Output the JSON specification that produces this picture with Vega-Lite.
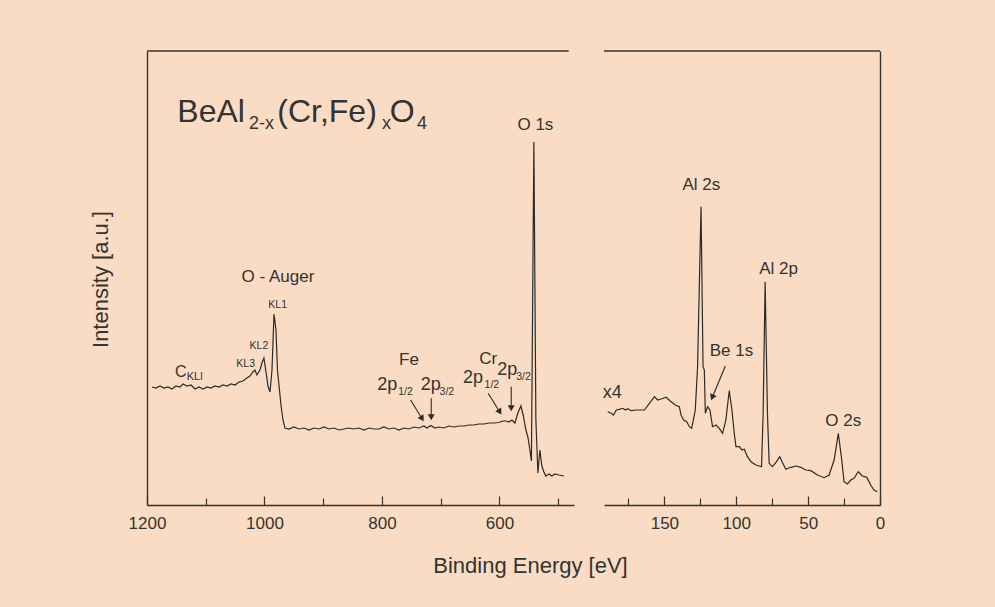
{
  "$schema": "https://vega.github.io/schema/vega-lite/v6.json",
  "background": "#f9dcc3",
  "padding": {"left": 89, "top": 50, "right": 115, "bottom": 40},
  "spacing": 30,
  "bounds": "flush",
  "config": {
    "view": {"stroke": null},
    "font": "Liberation Sans",
    "axis": {"domainColor": "#333333", "domainWidth": 1.4, "tickColor": "#333333", "tickWidth": 1.2, "labelFont": "Liberation Sans", "labelFontSize": 17, "labelColor": "#333333", "titleColor": "#333333", "titleFont": "Liberation Sans", "grid": false, "labelPadding": 19, "labelFlush": false, "labelOverlap": false},
    "text": {"font": "Liberation Sans", "color": "#333333"}
  },
  "hconcat": [
    {
      "width": 427,
      "height": 454,
      "encoding": {
        "x": {"field": "E", "type": "quantitative", "scale": {"domain": [473, 1200], "reverse": true, "nice": false, "zero": false},
          "axis": {"values": [1200, 1100, 1000, 900, 800, 700, 600, 500], "format": "d", "labelExpr": "datum.value % 200 === 0 ? datum.label : ''",
            "tickSize": {"condition": {"test": "datum.value % 200 === 0", "value": -9}, "value": -7},
            "title": "Binding Energy [eV]", "titleX": 383, "titleY": 67, "titleBaseline": "alphabetic", "titleAlign": "center", "titleFontSize": 22, "titleFontWeight": "normal"}},
        "y": {"field": "I", "type": "quantitative", "scale": {"domain": [0, 454], "nice": false, "zero": false},
          "axis": {"ticks": false, "labels": false, "title": "Intensity [a.u.]", "titleX": -47, "titleY": 228, "titleAngle": -90, "titleAlign": "center", "titleBaseline": "middle", "titleFontSize": 22, "titleFontWeight": "normal"}}
      },
      "layer": [
        {
          "data": {"values": [
            {"E":1191.5,"I":118},{"E":1184.7,"I":117},{"E":1177.9,"I":119},{"E":1171.1,"I":117},{"E":1164.3,"I":118},{"E":1157.4,"I":116},{"E":1150.6,"I":119},{"E":1143.8,"I":118},{"E":1138.7,"I":121},{"E":1131.9,"I":119},{"E":1125.1,"I":120},{"E":1118.3,"I":116},{"E":1111.5,"I":118},{"E":1104.7,"I":116},{"E":1097.9,"I":118},{"E":1091.1,"I":117},{"E":1084.3,"I":119},{"E":1077.4,"I":118},{"E":1070.6,"I":120},{"E":1063.8,"I":119},{"E":1057.0,"I":121},{"E":1050.2,"I":120},{"E":1043.4,"I":123},{"E":1036.6,"I":124},{"E":1029.8,"I":127},{"E":1024.7,"I":129},{"E":1019.6,"I":133},{"E":1016.2,"I":135},{"E":1012.8,"I":130},{"E":1007.7,"I":135},{"E":1004.3,"I":142},{"E":1000.9,"I":147},{"E":997.4,"I":133},{"E":994.0,"I":119},{"E":990.6,"I":113},{"E":987.2,"I":135},{"E":983.8,"I":191},{"E":980.4,"I":175},{"E":977.9,"I":135},{"E":975.3,"I":120},{"E":971.9,"I":100},{"E":968.5,"I":85},{"E":965.1,"I":77},
            {"E":958.3,"I":76},{"E":949.8,"I":78},{"E":941.3,"I":76},{"E":932.8,"I":77},{"E":924.3,"I":75},{"E":915.7,"I":77},{"E":907.2,"I":76},{"E":898.7,"I":78},{"E":890.2,"I":76},{"E":881.7,"I":77},{"E":873.2,"I":75},{"E":864.7,"I":76},{"E":856.2,"I":77},{"E":847.7,"I":76},{"E":839.2,"I":77},{"E":830.6,"I":75},{"E":822.1,"I":77},{"E":813.6,"I":76},{"E":805.1,"I":76},{"E":796.6,"I":78},{"E":788.1,"I":76},{"E":779.6,"I":77},{"E":771.1,"I":75},{"E":762.6,"I":77},{"E":754.1,"I":76},{"E":745.5,"I":78},{"E":737.0,"I":77},{"E":728.5,"I":79},{"E":723.4,"I":77},{"E":716.6,"I":79.5},{"E":709.8,"I":77},{"E":703.0,"I":78},{"E":694.5,"I":77},{"E":686.0,"I":79},{"E":677.5,"I":78},{"E":668.9,"I":79},{"E":660.4,"I":79},{"E":651.9,"I":80},{"E":643.4,"I":80},{"E":634.9,"I":81},{"E":626.4,"I":81},{"E":617.9,"I":82},{"E":609.4,"I":82},{"E":600.9,"I":82.5},{"E":594.1,"I":84},{"E":589.0,"I":84},{"E":583.8,"I":83},{"E":578.7,"I":85},{"E":573.6,"I":82},{"E":568.5,"I":92},{"E":563.4,"I":99},{"E":559.2,"I":89},{"E":554.9,"I":75},{"E":551.5,"I":68},{"E":548.1,"I":55},{"E":545.5,"I":44},{"E":541.3,"I":363},{"E":537.9,"I":85},{"E":534.5,"I":32},{"E":531.1,"I":55},{"E":527.7,"I":39},{"E":524.3,"I":33},{"E":520.9,"I":29},{"E":515.8,"I":31},{"E":510.7,"I":29},{"E":505.5,"I":31},{"E":498.7,"I":30},{"E":490.2,"I":29}
          ]},
          "mark": {"type": "line", "color": "#2b2b2b", "strokeWidth": 1.2}
        },
        {
          "data": {"values": [{"E": 1200, "E2": 482, "I": 454}]},
          "mark": {"type": "rule", "color": "#333333", "strokeWidth": 1.4},
          "encoding": {"x2": {"field": "E2"}}
        },
        {
          "data": {"values": [{"E": 1148.4, "I": 383, "t": "BeAl"}, {"E": 978.2, "I": 383, "t": "(Cr,Fe)"}, {"E": 786.9, "I": 383, "t": "O"}]},
          "mark": {"type": "text", "align": "left", "baseline": "alphabetic", "fontSize": 32},
          "encoding": {"text": {"field": "t"}}
        },
        {
          "data": {"values": [{"E": 1026.4, "I": 376, "t": "2-x"}, {"E": 800, "I": 376, "t": "x"}, {"E": 740.4, "I": 376, "t": "4"}]},
          "mark": {"type": "text", "align": "left", "baseline": "alphabetic", "fontSize": 18},
          "encoding": {"text": {"field": "t"}}
        },
        {
          "data": {"values": [{"E": 538.7, "I": 375, "t": "O 1s"}, {"E": 977, "I": 222.7, "t": "O - Auger"}, {"E": 754, "I": 140, "t": "Fe"}, {"E": 619.2, "I": 141, "t": "Cr"}]},
          "mark": {"type": "text", "align": "center", "baseline": "alphabetic", "fontSize": 17},
          "encoding": {"text": {"field": "t"}}
        },
        {
          "data": {"values": [{"E": 808, "I": 115, "t": "2p"}, {"E": 734.1, "I": 115, "t": "2p"}, {"E": 662.1, "I": 121.7, "t": "2p"}, {"E": 603.8, "I": 130, "t": "2p"}]},
          "mark": {"type": "text", "align": "left", "baseline": "alphabetic", "fontSize": 18},
          "encoding": {"text": {"field": "t"}}
        },
        {
          "data": {"values": [{"E": 772.3, "I": 110, "t": "1/2"}, {"E": 701.8, "I": 110, "t": "3/2"}, {"E": 625.2, "I": 116.7, "t": "1/2"}, {"E": 571.4, "I": 125, "t": "3/2"}]},
          "mark": {"type": "text", "align": "left", "baseline": "alphabetic", "fontSize": 10.5},
          "encoding": {"text": {"field": "t"}}
        },
        {
          "data": {"values": [{"E": 1152.3, "I": 128.3, "t": "C"}]},
          "mark": {"type": "text", "align": "left", "baseline": "alphabetic", "fontSize": 16},
          "encoding": {"text": {"field": "t"}}
        },
        {
          "data": {"values": [{"E": 1132.4, "I": 125, "t": "KLl"}]},
          "mark": {"type": "text", "align": "left", "baseline": "alphabetic", "fontSize": 11},
          "encoding": {"text": {"field": "t"}}
        },
        {
          "data": {"values": [{"E": 977.5, "I": 196.7, "t": "KL1"}, {"E": 1009.4, "I": 156, "t": "KL2"}, {"E": 1032, "I": 138.3, "t": "KL3"}]},
          "mark": {"type": "text", "align": "center", "baseline": "alphabetic", "fontSize": 10.5},
          "encoding": {"text": {"field": "t"}}
        },
        {
          "data": {"values": [{"E": 751.2, "I": 105, "E2": 731.6, "I2": 86.3}, {"E": 716.1, "I": 106.7, "E2": 716.1, "I2": 87.8}, {"E": 619.1, "I": 111.7, "E2": 599.3, "I2": 93}, {"E": 579.9, "I": 118.3, "E2": 579.9, "I2": 96.8}]},
          "mark": {"type": "rule", "color": "#2b2b2b", "strokeWidth": 1.1},
          "encoding": {"x2": {"field": "E2"}, "y2": {"field": "I2"}}
        },
        {
          "data": {"values": [{"E": 716.1, "I": 87.8}, {"E": 579.9, "I": 96.8}]},
          "mark": {"type": "point", "shape": "triangle-down", "filled": true, "size": 49, "color": "#2b2b2b", "opacity": 1}
        },
        {
          "data": {"values": [{"E": 731.6, "I": 86.3}, {"E": 599.3, "I": 93}]},
          "mark": {"type": "point", "shape": "triangle-down", "filled": true, "size": 49, "color": "#2b2b2b", "opacity": 1, "angle": -31.5}
        }
      ]
    },
    {
      "width": 276,
      "height": 454,
      "encoding": {
        "x": {"field": "E", "type": "quantitative", "scale": {"domain": [0, 192], "reverse": true, "nice": false, "zero": false},
          "axis": {"values": [175, 150, 125, 100, 75, 50, 25, 0], "format": "d", "labelExpr": "datum.value % 50 === 0 ? datum.label : ''",
            "tickSize": {"condition": {"test": "datum.value % 50 === 0", "value": -9}, "value": -7}, "title": null}},
        "y": {"field": "I", "type": "quantitative", "scale": {"domain": [0, 454], "nice": false, "zero": false},
          "axis": {"orient": "right", "ticks": false, "labels": false, "title": null}}
      },
      "layer": [
        {
          "data": {"values": [
            {"E":189.4,"I":93.3},{"E":187.0,"I":91.7},{"E":185.4,"I":90},{"E":183.5,"I":95},{"E":181.3,"I":95.7},{"E":179.0,"I":96.7},{"E":177.1,"I":95},{"E":175.5,"I":96.3},{"E":173.1,"I":94.3},{"E":169.7,"I":95},{"E":163.9,"I":95},{"E":160.4,"I":101.7},{"E":156.9,"I":108.3},{"E":154.7,"I":105},{"E":152.3,"I":106},{"E":148.8,"I":107.7},{"E":145.3,"I":103.3},{"E":142.4,"I":100},{"E":139.6,"I":98.3},{"E":138.4,"I":90},{"E":136.6,"I":85},{"E":134.5,"I":83.3},{"E":132.6,"I":78.3},{"E":131.0,"I":76.7},{"E":128.5,"I":95},{"E":126.9,"I":138.3},{"E":124.5,"I":298.3},{"E":123.1,"I":138.3},{"E":122.2,"I":135},{"E":121.5,"I":91.7},{"E":119.9,"I":98.3},{"E":118.3,"I":95},{"E":116.5,"I":78.3},{"E":114.1,"I":80},{"E":111.8,"I":76.7},{"E":109.5,"I":71.7},{"E":107.2,"I":85},{"E":104.9,"I":114.3},{"E":103.0,"I":95},{"E":101.4,"I":71.7},{"E":100.2,"I":58.3},{"E":97.9,"I":58.3},{"E":96.0,"I":55},{"E":94.4,"I":55.7},{"E":92.2,"I":48.3},{"E":89.8,"I":43.3},{"E":86.3,"I":40},{"E":82.4,"I":38.3},{"E":81.3,"I":91.7},{"E":79.9,"I":223.3},{"E":78.3,"I":91.7},{"E":77.1,"I":41.7},{"E":74.8,"I":38.3},{"E":72.0,"I":43.3},{"E":69.7,"I":48.3},{"E":67.8,"I":42.3},{"E":65.5,"I":35.7},{"E":62.0,"I":37.7},{"E":58.5,"I":39},{"E":55.1,"I":37.7},{"E":51.6,"I":35},{"E":48.1,"I":34.3},{"E":43.5,"I":30},{"E":38.9,"I":27.3},{"E":35.4,"I":30},{"E":31.9,"I":45},{"E":29.0,"I":71.7},{"E":26.6,"I":45},{"E":25.0,"I":23.3},{"E":22.7,"I":21},{"E":20.3,"I":25},{"E":18.1,"I":26.7},{"E":15.1,"I":33.3},{"E":12.3,"I":29},{"E":9.2,"I":27.7},{"E":6.5,"I":20},{"E":4.2,"I":15},{"E":1.9,"I":13.3}
          ]},
          "mark": {"type": "line", "color": "#2b2b2b", "strokeWidth": 1.2}
        },
        {
          "data": {"values": [{"E": 192, "E2": 0, "I": 454}]},
          "mark": {"type": "rule", "color": "#333333", "strokeWidth": 1.4},
          "encoding": {"x2": {"field": "E2"}}
        },
        {
          "data": {"values": [{"E": 124.3, "I": 315, "t": "Al 2s"}, {"E": 70.5, "I": 231, "t": "Al 2p"}, {"E": 103.3, "I": 149, "t": "Be 1s"}, {"E": 25.6, "I": 79, "t": "O 2s"}]},
          "mark": {"type": "text", "align": "center", "baseline": "alphabetic", "fontSize": 17},
          "encoding": {"text": {"field": "t"}}
        },
        {
          "data": {"values": [{"E": 186.3, "I": 106.7, "t": "x4"}]},
          "mark": {"type": "text", "align": "center", "baseline": "alphabetic", "fontSize": 18},
          "encoding": {"text": {"field": "t"}}
        },
        {
          "data": {"values": [{"E": 107.6, "I": 139, "E2": 116.7, "I2": 107.5}]},
          "mark": {"type": "rule", "color": "#2b2b2b", "strokeWidth": 1.1},
          "encoding": {"x2": {"field": "E2"}, "y2": {"field": "I2"}}
        },
        {
          "data": {"values": [{"E": 116.7, "I": 107.5}]},
          "mark": {"type": "point", "shape": "triangle-down", "filled": true, "size": 49, "color": "#2b2b2b", "opacity": 1, "angle": 22.4}
        }
      ]
    }
  ]
}
